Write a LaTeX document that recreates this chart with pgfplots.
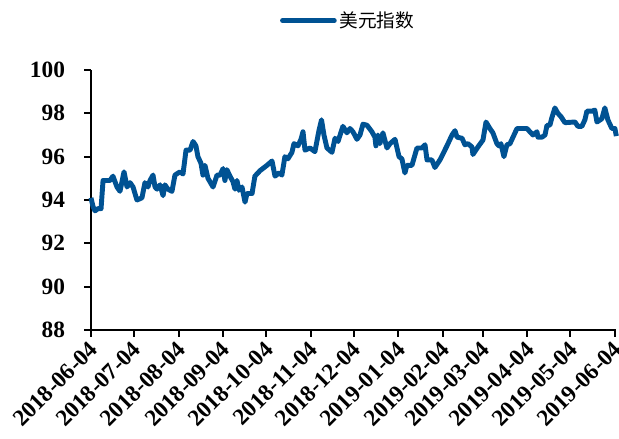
\documentclass[border=0pt]{standalone}
\usepackage{pgfplots}
\pgfplotsset{compat=1.18}
\usepackage{fontspec}
\setmainfont{Liberation Serif}
\newfontfamily\cjk{Noto Sans CJK SC}
\definecolor{usdblue}{RGB}{0,82,147}

\begin{document}
\begin{tikzpicture}
\begin{axis}[
scale only axis,
width=394pt, height=195pt,
xmin=0, xmax=366,
ymin=88, ymax=100,
ytick={88,90,...,100},
xtick={0,30,61,92,122,153,183,214,245,273,304,334,365},
xticklabels={2018-06-04,2018-07-04,2018-08-04,2018-09-04,2018-10-04,2018-11-04,2018-12-04,2019-01-04,2019-02-04,2019-03-04,2019-04-04,2019-05-04,2019-06-04},
axis x line*=bottom,
axis y line*=left,
axis line style={line width=1.5pt, -},
tick style={line width=1.5pt, black},
tick align=outside,
major tick length=5pt,
font=\fontsize{17.5}{20}\selectfont\bfseries,
/pgf/number format/assume math mode=true,
xticklabel style={rotate=45, anchor=north east, inner sep=1pt, xshift=-2pt, yshift=1pt},
yticklabel style={xshift=-11pt},
clip=false,
legend style={at={(axis description cs:0.49,1)}, anchor=center, yshift=37pt,
  draw=none, font=\fontsize{14}{16}\selectfont\cjk},
legend image code/.code={\draw[#1, line width=3.5pt, line cap=round] (0pt,0pt) -- (39pt,0pt);},
]
\addplot[color=usdblue, line width=3.7pt, line join=round] coordinates {
(0,94.1) (1.4,93.7) (2.8,93.5) (4.9,93.6) (7,93.6) (8.4,94.9) (11.1,94.9)
(13.2,94.9) (15.3,95.1) (18.1,94.6) (20.2,94.4) (23,95.3) (25.1,94.6)
(27.2,94.8) (29.3,94.6) (32,94.0) (35.5,94.1) (37.6,94.8) (39.7,94.6)
(41.1,94.9) (43.2,95.15) (44.6,94.6) (46,94.5) (48.1,94.7) (50.2,94.2)
(51.5,94.7) (53.6,94.5) (56.4,94.4) (58.5,95.15) (62,95.3) (64.1,95.2)
(66.2,96.3) (69,96.3) (71.1,96.7) (73.1,96.5) (74.5,96.0) (76.6,95.7)
(78,95.15) (79.4,95.6) (81.5,95.0) (85,94.6) (87.8,95.15) (89.9,95.15)
(92,95.45) (93.3,94.9) (94.7,95.4) (96.8,95.1) (98.9,94.85) (100.3,94.5)
(101.7,94.9) (103.1,94.45) (105.2,94.6) (107.3,93.9) (108.7,94.3)
(112.2,94.3) (114.2,95.1) (117.7,95.35) (122.6,95.6) (126.1,95.8)
(128.2,95.1) (131,95.25) (133,95.15) (135.1,96.0) (137.2,95.9) (140,96.2)
(141.4,96.6) (144.2,96.5) (146.3,96.8) (147.7,97.15) (149.1,96.3)
(152.6,96.4) (156,96.23) (158.8,97.2) (160.6,97.7) (162.3,97.0)
(164.4,96.4) (167.9,96.2) (170,96.85) (172.1,96.7) (175.5,97.4)
(178.3,97.1) (180.4,97.3) (182.5,97.15) (185.3,96.8) (187.4,97.0)
(189.5,97.5) (192.3,97.45) (195.7,97.15) (197.8,96.9) (198.5,96.5)
(199.9,97.0) (201.3,96.6) (203.4,97.1) (206.2,96.4) (208.3,96.6)
(211.8,96.8) (214.6,96.0) (216.6,95.9) (218.7,95.25) (220.1,95.6)
(223.6,95.6) (227.1,96.4) (230.6,96.4) (232.7,96.55) (234.1,95.85)
(237.5,95.85) (239.6,95.5) (243.1,95.85) (248,96.5) (251.5,97.0)
(253.6,97.2) (255,96.9) (258.5,96.85) (260.5,96.55) (262.6,96.6)
(265.4,96.45) (266.1,96.1) (269.6,96.45) (273.1,96.77) (275.2,97.6)
(277.9,97.3) (280,97.1) (282.8,96.6) (284.2,96.5) (285.6,96.6)
(287.7,96.0) (289.8,96.55) (291.9,96.6) (294,96.9) (296.8,97.3)
(300.2,97.3) (303.7,97.3) (305.8,97.15) (307.9,97.0) (310.7,97.15)
(311.4,96.9) (314.2,96.9) (316.3,97.0) (317.7,97.45) (319.7,97.45)
(321.1,97.8) (323.2,98.25) (325.3,98.0) (327.4,97.85) (330.2,97.57)
(337.2,97.6) (339.2,97.4) (342,97.4) (344.1,97.7) (345.5,98.1)
(349,98.1) (351,98.15) (352.5,97.6) (355.9,97.75) (358,98.25)
(360.1,97.7) (362.9,97.3) (365,97.3) (366,96.95)
};
\addlegendentry{美元指数}
\coordinate (sw) at (rel axis cs:0,0);
\end{axis}
\pgfresetboundingbox
\path[use as bounding box] (sw) ++(-68.25pt,-81.75pt) rectangle ++(464.25pt,329.25pt);
\end{tikzpicture}
\end{document}
